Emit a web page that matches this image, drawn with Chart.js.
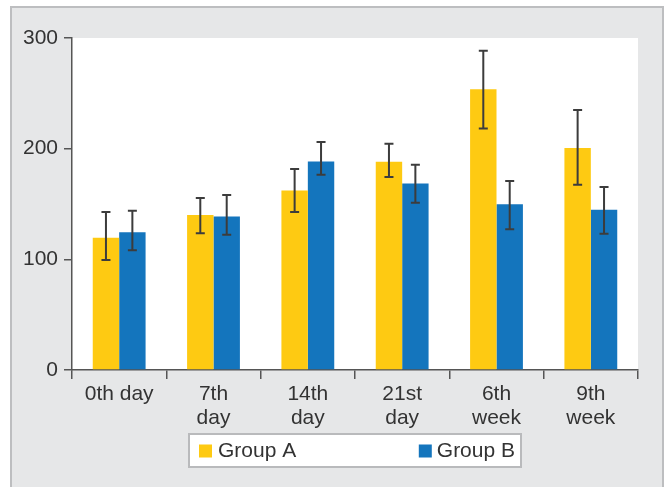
<!DOCTYPE html>
<html>
<head>
<meta charset="utf-8">
<script src="https://cdn.jsdelivr.net/npm/chart.js@4/dist/chart.umd.min.js"></script>
<style>
  html, body { margin: 0; padding: 0; background: #ffffff; }
  #wrap { width: 667px; height: 487px; }
</style>
</head>
<body>
<div id="wrap"><canvas id="c" width="667" height="487"></canvas></div>
<script>
// ---- data ----
const categories = [["0th day"], ["7th", "day"], ["14th", "day"], ["21st", "day"], ["6th", "week"], ["9th", "week"]];
const seriesNames = ["Group A", "Group B"];
const groupA     = [119.5, 140.0, 162.3, 188.2, 253.8, 200.5];
const groupAHigh = [142.7, 155.4, 181.6, 204.4, 288.4, 234.9];
const groupALow  = [ 99.4, 123.5, 142.7, 174.3, 218.3, 167.4];
const groupB     = [124.4, 138.8, 188.5, 168.6, 149.7, 144.8];
const groupBHigh = [143.9, 158.1, 206.0, 185.5, 170.7, 165.3];
const groupBLow  = [108.1, 122.2, 176.4, 151.1, 127.1, 123.1];
const yTickValues = [0, 100, 200, 300];

const colors = ["#FECA12", "#1475BD"];
const FONT = "'Liberation Sans', Arial, Helvetica, sans-serif";
const TEXT = "#333333";

const errHigh = [groupAHigh, groupBHigh];
const errLow = [groupALow, groupBLow];

const backgroundPlugin = {
  id: 'panelBg',
  beforeDraw(chart) {
    const ctx = chart.ctx, a = chart.chartArea;
    ctx.save();
    ctx.fillStyle = '#ffffff';
    ctx.fillRect(0, 0, chart.width, chart.height);
    ctx.fillStyle = '#e6e7e8';
    ctx.fillRect(11, 7, 652, chart.height);
    ctx.strokeStyle = '#bdbec0';
    ctx.lineWidth = 2;
    ctx.strokeRect(11, 7, 652, chart.height + 10);
    ctx.fillStyle = '#ffffff';
    ctx.fillRect(a.left, a.top, a.right - a.left, a.bottom - a.top);
    ctx.restore();
  }
};

const errorBarPlugin = {
  id: 'errorBars',
  afterDatasetsDraw(chart) {
    const ctx = chart.ctx, y = chart.scales.y;
    ctx.save();
    ctx.strokeStyle = '#3c3c3c';
    ctx.lineWidth = 2;
    chart.data.datasets.forEach((ds, i) => {
      const meta = chart.getDatasetMeta(i);
      meta.data.forEach((el, j) => {
        const x = el.x;
        const yh = y.getPixelForValue(errHigh[i][j]);
        const yl = y.getPixelForValue(errLow[i][j]);
        ctx.beginPath();
        ctx.moveTo(x, yh); ctx.lineTo(x, yl);
        ctx.moveTo(x - 4.5, yh); ctx.lineTo(x + 4.5, yh);
        ctx.moveTo(x - 4.5, yl); ctx.lineTo(x + 4.5, yl);
        ctx.stroke();
      });
    });
    ctx.restore();
  }
};

const legendPlugin = {
  id: 'boxLegend',
  afterDraw(chart) {
    const ctx = chart.ctx, a = chart.chartArea;
    const w = 332, h = 33;
    const cx = (a.left + a.right) / 2;
    const left = cx - w / 2, top = a.bottom + 64;
    ctx.save();
    ctx.fillStyle = '#ffffff';
    ctx.fillRect(left, top, w, h);
    ctx.strokeStyle = '#b9babc';
    ctx.lineWidth = 2;
    ctx.strokeRect(left, top, w, h);
    ctx.font = '21px ' + FONT;
    ctx.textBaseline = 'middle';
    ctx.fillStyle = TEXT;
    const midY = top + h / 2 + 1;
    // item A
    const ds = chart.data.datasets;
    ctx.fillStyle = ds[0].backgroundColor;
    ctx.fillRect(left + 10, midY - 7, 13, 13);
    ctx.fillStyle = TEXT;
    ctx.fillText(ds[0].label, left + 29, midY);
    // item B
    const tw = ctx.measureText(ds[1].label).width;
    const tx = left + w - 6 - tw;
    ctx.fillStyle = ds[1].backgroundColor;
    ctx.fillRect(tx - 18, midY - 7, 13, 13);
    ctx.fillStyle = TEXT;
    ctx.fillText(ds[1].label, tx, midY);
    ctx.restore();
  }
};

new Chart(document.getElementById('c'), {
  type: 'bar',
  data: {
    labels: categories,
    datasets: [
      { label: seriesNames[0], data: groupA, backgroundColor: colors[0], borderWidth: 0 },
      { label: seriesNames[1], data: groupB, backgroundColor: colors[1], borderWidth: 0 }
    ]
  },
  options: {
    responsive: false,
    devicePixelRatio: 1,
    animation: false,
    layout: { padding: { top: 38, right: 29, left: 0, bottom: 0 } },
    datasets: { bar: { categoryPercentage: 0.56, barPercentage: 1.0 } },
    plugins: {
      legend: { display: false },
      tooltip: { enabled: false }
    },
    scales: {
      x: {
        afterFit(scale) { scale.height = 117; },
        grid: { offset: true, drawOnChartArea: false, drawTicks: true, tickLength: 9, color: '#555555', lineWidth: 1.5 },
        border: { display: true, color: '#555555', width: 1.5 },
        ticks: { color: TEXT, font: { family: FONT, size: 21, lineHeight: 1.14 }, padding: 3, maxRotation: 0, autoSkip: false }
      },
      y: {
        min: 0, max: 300,
        afterFit(scale) { scale.width = 72; },
        afterBuildTicks(scale) { scale.ticks = yTickValues.map(v => ({ value: v })); },
        grid: { drawOnChartArea: false, drawTicks: true, tickLength: 8, color: '#555555', lineWidth: 1.5 },
        border: { display: true, color: '#555555', width: 1.5 },
        ticks: { color: TEXT, font: { family: FONT, size: 21 }, padding: 6 }
      }
    }
  },
  plugins: [backgroundPlugin, errorBarPlugin, legendPlugin]
});
</script>
</body>
</html>
